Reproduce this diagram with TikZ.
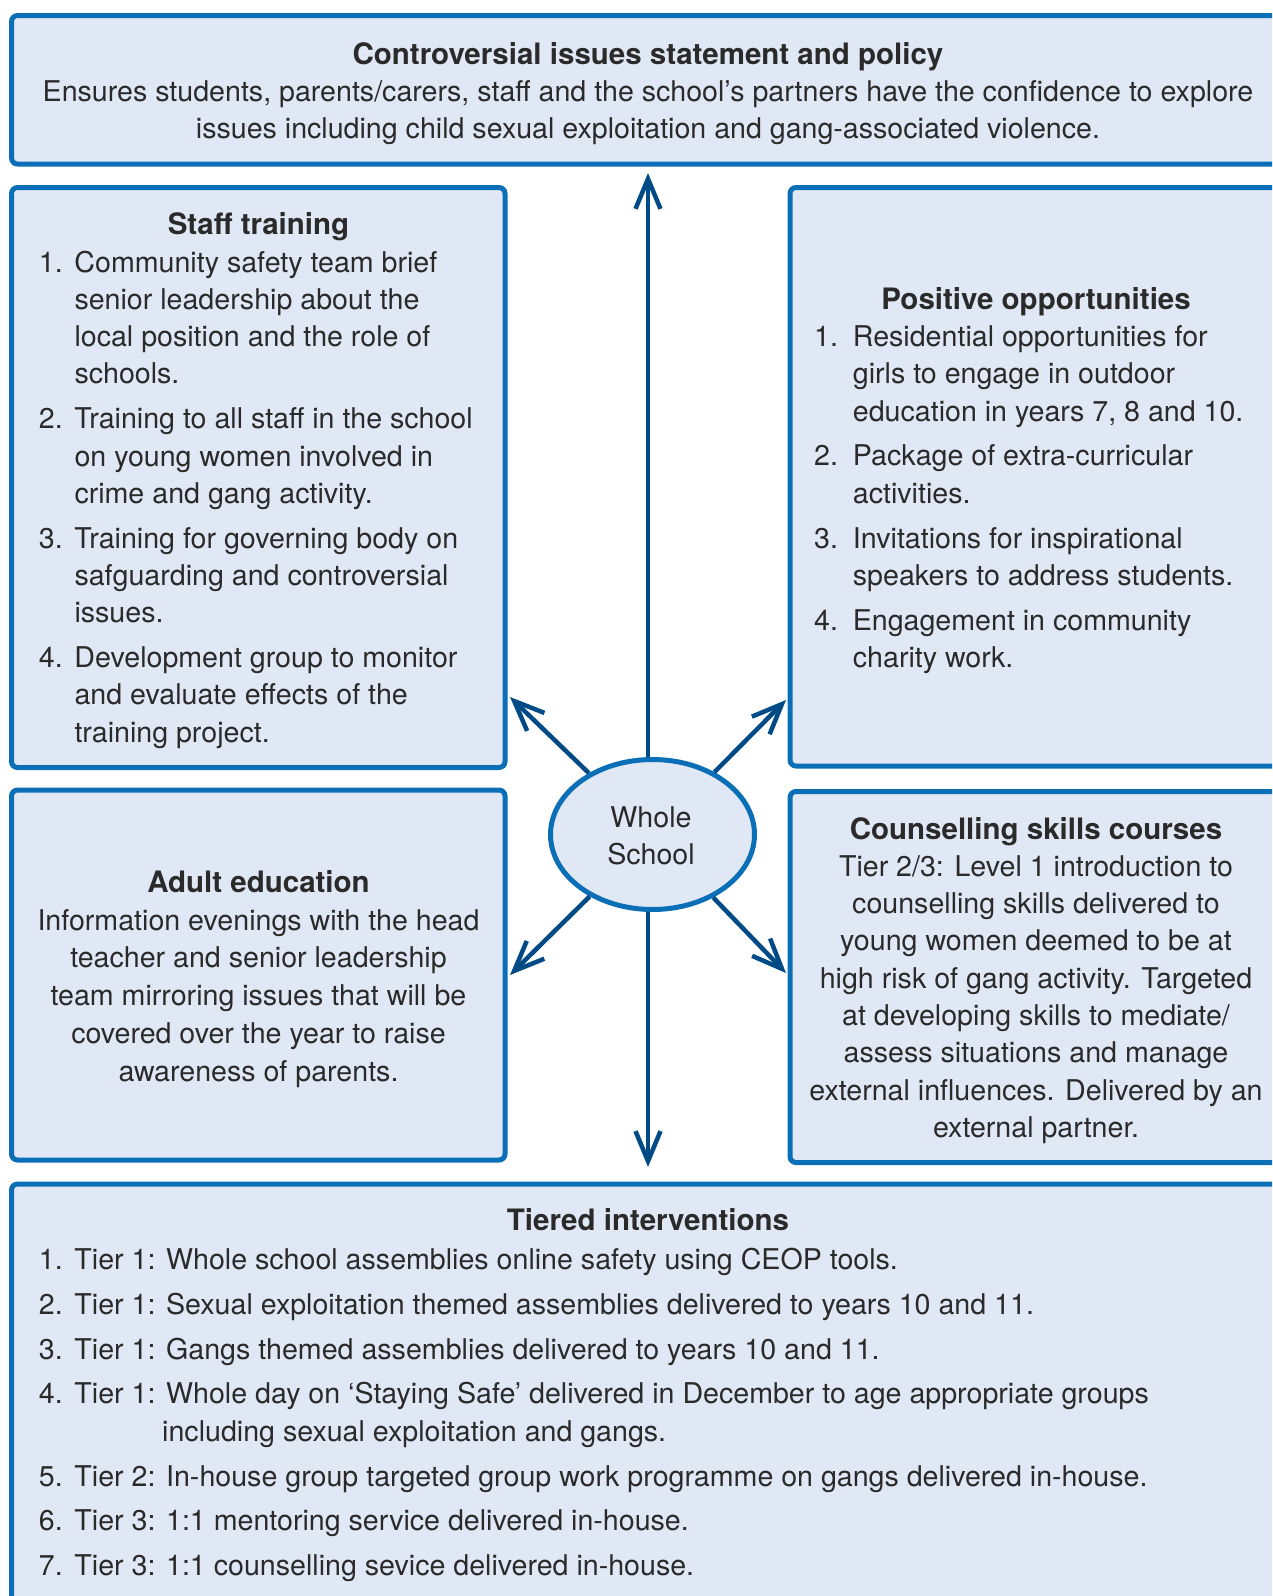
\documentclass[tikz,border=0pt]{standalone}
\usepackage{fontspec}
\setmainfont{TeX Gyre Heros}
\usetikzlibrary{arrows.meta,shapes.geometric}
\definecolor{bord}{HTML}{0B6FB8}
\definecolor{boxfill}{HTML}{E1E8F5}
\definecolor{arrc}{HTML}{004A86}
\definecolor{txtc}{HTML}{2A2A2A}
\tikzset{
 box/.style={draw=bord, fill=boxfill, line width=5pt, rounded corners=6pt, inner sep=0pt, outer sep=0pt, anchor=north west},
 txt/.style={text=txtc, inner sep=0pt, font=\fontsize{28.6}{37.3}\selectfont},
 arr/.style={draw=arrc, line width=4.5pt, -{Straight Barb[length=30pt,width=25pt]}},
}
\newcommand\nbA[1]{\makebox[35.6pt][l]{#1}}
\newcommand\nbB[1]{\makebox[38.7pt][l]{#1}}
\newcommand\tb[1]{{\fontsize{29.5}{37.3}\selectfont\bfseries #1}}
\begin{document}
\begin{tikzpicture}[x=1pt,y=-1pt]
\useasboundingbox (0,0) rectangle (1272,1596);
\clip (0,0) rectangle (1272,1596);
% boxes
\node[box, minimum width=1288.5pt, minimum height=148.5pt] (topbox) at (11.5,15.5) {};
\node[box, minimum width=493.5pt, minimum height=580pt] (staffbox) at (11.5,187.5) {};
\node[box, minimum width=510pt, minimum height=578.5pt] (posbox) at (790,187.5) {};
\node[box, minimum width=493.5pt, minimum height=370pt] (adultbox) at (11.5,790) {};
\node[box, minimum width=510pt, minimum height=371pt] (counsbox) at (790,791.5) {};
\node[box, minimum width=1288.5pt, minimum height=466pt] (tierbox) at (11.5,1184) {};
% whole school
\node[ellipse, draw=bord, fill=boxfill, line width=5pt, minimum width=204pt, minimum height=150pt, inner sep=0pt] (ws) at (652.5,834.5) {};
\node[txt, anchor=base] (wstxt) at (651,827.7) {\begin{tabular}[t]{@{}c@{}}Whole\\[-1pt]School\end{tabular}};
% arrow tips
\coordinate (upT) at (648,173);
\coordinate (dnT) at (648,1167);
\coordinate (ulT) at (510,697);
\coordinate (urT) at (786,700);
\coordinate (llT) at (510,975);
\coordinate (lrT) at (786,973);
\draw[arr] (ws.north -| upT) -- (upT);
\draw[arr] (ws.south -| dnT) -- (dnT);
\draw[arr] (ws) -- (ulT);
\draw[arr] (ws) -- (urT);
\draw[arr] (ws) -- (llT);
\draw[arr] (ws) -- (lrT);
% top text
\node[txt, anchor=base, font=\fontsize{28.6}{37}\selectfont] (toptxt) at (648,64) {\begin{tabular}[t]{@{}c@{}}\tb{Controversial issues statement and policy}\\
Ensures students, parents/carers, staff and the school’s partners have the confidence to explore\\
issues including child sexual exploitation and gang-associated violence.\end{tabular}};
% staff training
\node[txt, anchor=base] (stafftitle) at (258.5,234.5) {\tb{Staff training}};
\node[txt, anchor=base west] (stafflist) at (38.7,272) {\begin{tabular}[t]{@{}l@{}l@{}}
\nbA{1.}&Community safety team brief\\
&senior leadership about the\\
&local position and the role of\\
&schools.\\[7.5pt]
\nbA{2.}&Training to all staff in the school\\
&on young women involved in\\
&crime and gang activity.\\[7.5pt]
\nbA{3.}&Training for governing body on\\
&safguarding and controversial\\
&issues.\\[7.5pt]
\nbA{4.}&Development group to monitor\\
&and evaluate effects of the\\
&training project.
\end{tabular}};
% positive opportunities
\node[txt, anchor=base] (postitle) at (1036,309.5) {\tb{Positive opportunities}};
\node[txt, anchor=base west] (poslist) at (814,346.5) {\begin{tabular}[t]{@{}l@{}l@{}}
\nbB{1.}&Residential opportunities for\\
&girls to engage in outdoor\\
&education in years 7, 8 and 10.\\[7.5pt]
\nbB{2.}&Package of extra-curricular\\
&activities.\\[7.5pt]
\nbB{3.}&Invitations for inspirational\\
&speakers to address students.\\[7.5pt]
\nbB{4.}&Engagement in community\\
&charity work.
\end{tabular}};
% adult education
\node[txt, anchor=base, font=\fontsize{28.6}{37.7}\selectfont] (adulttxt) at (258.5,892.5) {\begin{tabular}[t]{@{}c@{}}\tb{Adult education}\\
Information evenings with the head\\
teacher and senior leadership\\
team mirroring issues that will be\\
covered over the year to raise\\
awareness of parents.\end{tabular}};
% counselling
\node[txt, anchor=base] (counstxt) at (1036,839) {\begin{tabular}[t]{@{}c@{}}\tb{Counselling skills courses}\\
Tier 2/3: Level 1 introduction to\\
counselling skills delivered to\\
young women deemed to be at\\
high risk of gang activity. Targeted\\
at developing skills to mediate/\\
assess situations and manage\\
external influences. Delivered by an\\
external partner.\end{tabular}};
% tiered interventions
\node[txt, anchor=base] (tiertitle) at (648,1230.5) {\tb{Tiered interventions}};
\node[txt, anchor=base west] (tierlist) at (38.7,1269.5) {\begin{tabular}[t]{@{}l@{}l@{}}
\nbA{1.}&Tier 1: Whole school assemblies online safety using CEOP tools.\\[7.5pt]
\nbA{2.}&Tier 1: Sexual exploitation themed assemblies delivered to years 10 and 11.\\[7.5pt]
\nbA{3.}&Tier 1: Gangs themed assemblies delivered to years 10 and 11.\\[7.5pt]
\nbA{4.}&Tier 1: Whole day on ‘Staying Safe’ delivered in December to age appropriate groups\\
&\hspace{87.7pt}including sexual exploitation and gangs.\\[7.5pt]
\nbA{5.}&Tier 2: In-house group targeted group work programme on gangs delivered in-house.\\[7.5pt]
\nbA{6.}&Tier 3: 1:1 mentoring service delivered in-house.\\[7.5pt]
\nbA{7.}&Tier 3: 1:1 counselling sevice delivered in-house.
\end{tabular}};
\end{tikzpicture}
\end{document}
